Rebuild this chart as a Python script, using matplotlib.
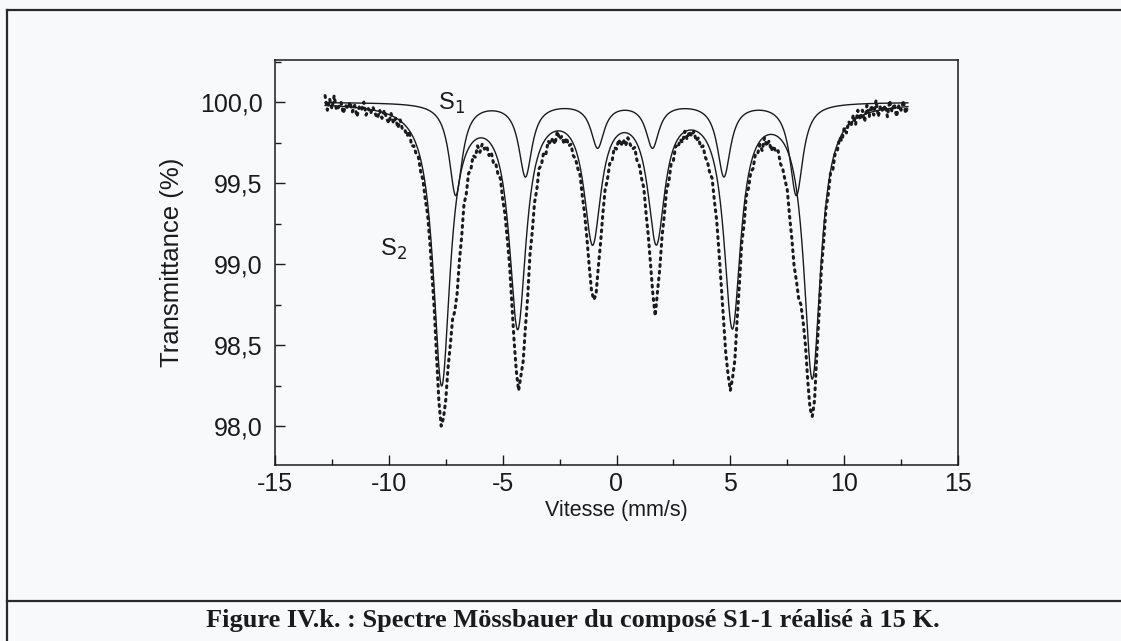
import numpy as np
import matplotlib
matplotlib.use("Agg")
import matplotlib.pyplot as plt
from matplotlib.lines import Line2D
from matplotlib.ticker import MultipleLocator, FuncFormatter

# sous-spectres ajustés : positions des raies (mm/s), profondeurs (%), demi-largeur (mm/s)
s1_pos = [-7.06, -4.00, -0.83, 1.58, 4.72, 7.90]
s1_depth = [0.57, 0.45, 0.27, 0.27, 0.45, 0.57]
s1_hwhm = 0.35
s2_pos = [-7.68, -4.34, -1.05, 1.75, 5.09, 8.60]
s2_depth = [1.72, 1.35, 0.82, 0.82, 1.35, 1.68]
s2_hwhm = 0.45

# points expérimentaux : 257 canaux de -12,8 à 12,8 mm/s (pas 0,1)
v_min, v_max = -12.8, 12.8
transmission = [
    100.04, 99.95, 100.02, 99.96, 100.04, 99.95, 99.97, 100.00, 99.93, 99.98,
    99.96, 100.00, 99.94, 99.98, 99.91, 99.97, 99.95, 100.00, 99.92, 99.96,
    99.93, 99.97, 99.93, 99.90, 99.95, 99.90, 99.95, 99.90, 99.87, 99.93,
    99.87, 99.90, 99.84, 99.89, 99.83, 99.83, 99.79, 99.82, 99.73, 99.73,
    99.68, 99.66, 99.57, 99.52, 99.40, 99.31, 99.14, 98.93, 98.71, 98.42,
    98.15, 98.00, 98.05, 98.16, 98.36, 98.50, 98.66, 98.71, 98.82, 99.02,
    99.17, 99.37, 99.43, 99.56, 99.58, 99.67, 99.66, 99.73, 99.69, 99.74,
    99.71, 99.73, 99.67, 99.69, 99.62, 99.62, 99.55, 99.53, 99.40, 99.31,
    99.16, 99.00, 98.76, 98.53, 98.34, 98.22, 98.31, 98.40, 98.61, 98.80,
    99.06, 99.20, 99.38, 99.46, 99.59, 99.61, 99.69, 99.68, 99.76, 99.74,
    99.78, 99.74, 99.82, 99.77, 99.79, 99.74, 99.78, 99.73, 99.74, 99.67,
    99.65, 99.59, 99.55, 99.42, 99.31, 99.16, 98.99, 98.84, 98.78, 98.81,
    98.98, 99.13, 99.31, 99.46, 99.52, 99.62, 99.63, 99.72, 99.71, 99.77,
    99.73, 99.77, 99.73, 99.78, 99.74, 99.71, 99.72, 99.64, 99.61, 99.53,
    99.47, 99.31, 99.17, 98.99, 98.81, 98.68, 98.83, 98.97, 99.17, 99.30,
    99.46, 99.51, 99.62, 99.64, 99.73, 99.72, 99.77, 99.75, 99.82, 99.77,
    99.82, 99.79, 99.82, 99.76, 99.78, 99.72, 99.73, 99.66, 99.63, 99.56,
    99.53, 99.39, 99.27, 99.08, 98.87, 98.66, 98.45, 98.32, 98.22, 98.30,
    98.41, 98.66, 98.88, 99.13, 99.24, 99.42, 99.47, 99.57, 99.59, 99.68,
    99.68, 99.74, 99.70, 99.78, 99.73, 99.76, 99.70, 99.73, 99.69, 99.70,
    99.62, 99.59, 99.52, 99.46, 99.30, 99.16, 98.99, 98.90, 98.79, 98.75,
    98.64, 98.50, 98.28, 98.11, 98.06, 98.16, 98.45, 98.70, 98.97, 99.14,
    99.34, 99.43, 99.56, 99.58, 99.68, 99.70, 99.78, 99.76, 99.84, 99.81,
    99.88, 99.85, 99.92, 99.86, 99.95, 99.89, 99.95, 99.88, 99.98, 99.91,
    99.98, 99.92, 100.01, 99.91, 99.98, 99.94, 99.98, 99.91, 100.01, 99.94,
    99.99, 99.91, 99.98, 99.95, 100.01, 99.93, 99.98,
]


def sextet(v, pos, depth, hwhm):
    # somme de six lorentziennes (absorption en %)
    a = np.zeros_like(v)
    for p, d in zip(pos, depth):
        a += d * hwhm ** 2 / (hwhm ** 2 + (v - p) ** 2)
    return a


plt.rcParams["font.family"] = ["Liberation Sans", "DejaVu Sans"]
plt.rcParams["axes.unicode_minus"] = False
INK = "#1b1b1b"

fig = plt.figure(figsize=(11.21, 6.41), dpi=100, facecolor="#f7f9fb")
W, H = 1121, 641
ax = fig.add_axes([275 / W, 1 - 465 / H, 683 / W, 405 / H])
ax.set_facecolor("none")

v = np.linspace(v_min, v_max, 1500)
t1 = 100 - sextet(v, s1_pos, s1_depth, s1_hwhm)
t2 = 100 - sextet(v, s2_pos, s2_depth, s2_hwhm)
v_exp = np.linspace(v_min, v_max, len(transmission))

ax.plot(v, t1, color=INK, lw=1.0)
ax.plot(v, t2, color=INK, lw=1.0)
ax.plot(v_exp, transmission, color=INK, lw=2.2, linestyle=(0, (0.6, 1.6)),
        dash_capstyle="round")

ax.set_xlim(-15, 15)
ax.set_ylim(97.76, 100.26)
ax.xaxis.set_major_locator(MultipleLocator(5))
ax.xaxis.set_minor_locator(MultipleLocator(2.5))
ax.yaxis.set_major_locator(MultipleLocator(0.5))
ax.yaxis.set_minor_locator(MultipleLocator(0.25))
ax.yaxis.set_major_formatter(FuncFormatter(lambda y, _: f"{y:.1f}".replace(".", ",")))
ax.xaxis.set_major_formatter(FuncFormatter(lambda x, _: f"{x:.0f}"))
ax.tick_params(which="both", direction="in", color=INK, width=1.0,
               labelsize=18, labelcolor=INK)
ax.tick_params(which="major", length=7, pad=5)
ax.tick_params(which="minor", length=4.5)
ax.tick_params(axis="y", which="major", pad=9)
for s in ax.spines.values():
    s.set_linewidth(1.1)
    s.set_color(INK)

ax.set_xlabel("Vitesse (mm/s)", fontsize=15.5, color=INK, labelpad=3)
ax.set_ylabel("Transmittance (%)", fontsize=18.5, color=INK, labelpad=11)

ax.text(-7.25, 99.99, "S$_1$", fontsize=17, ha="center", va="center", color=INK)
ax.text(-9.8, 99.09, "S$_2$", fontsize=17, ha="center", va="center", color=INK)

# cadre de la figure et légende
box = dict(color="#2a2a2a", lw=1.6, transform=fig.transFigure)
fig.add_artist(Line2D([7 / W, 7 / W], [0, 1 - 10 / H], **box))
fig.add_artist(Line2D([7 / W, 1], [1 - 10 / H, 1 - 10 / H], **box))
fig.add_artist(Line2D([7 / W, 1], [1 - 601 / H, 1 - 601 / H], **box))
fig.text(573 / W, 1 - 620 / H,
         "Figure IV.k. : Spectre Mössbauer du composé S1-1 réalisé à 15 K.",
         family=["Liberation Serif", "DejaVu Serif"], weight="bold", fontsize=19,
         ha="center", va="center", color=INK)

fig.savefig("out.png", dpi=100, facecolor=fig.get_facecolor())
